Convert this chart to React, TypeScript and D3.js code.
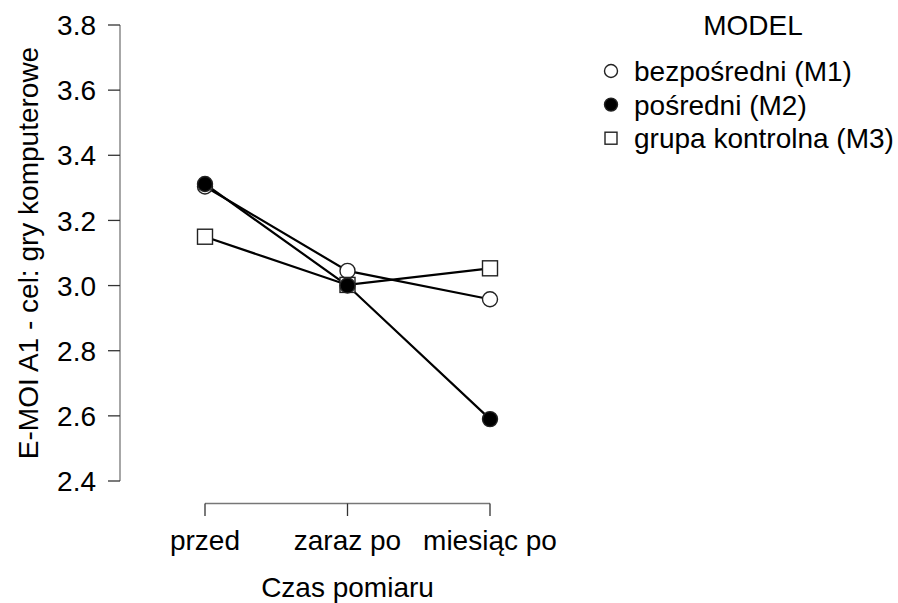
import React from "react";
import * as d3 from "d3";

// Time points and model means
const timePoints = ["przed", "zaraz po", "miesiąc po"];
const m1Values = [3.304, 3.045, 2.958];
const m2Values = [3.312, 3.0, 2.59];
const m3Values = [3.15, 3.002, 3.053];
const seriesNames = ["bezpośredni (M1)", "pośredni (M2)", "grupa kontrolna (M3)"];
const yTicks = [2.4, 2.6, 2.8, 3.0, 3.2, 3.4, 3.6, 3.8];

const W = 898;
const H = 603;
const FONT = "'Liberation Sans', Arial, sans-serif";
const FS = 28;

type Shape = "circle-open" | "circle-filled" | "square-open";

const series: { name: string; values: number[]; shape: Shape }[] = [
  { name: seriesNames[0], values: m1Values, shape: "circle-open" },
  { name: seriesNames[2], values: m3Values, shape: "square-open" },
  { name: seriesNames[1], values: m2Values, shape: "circle-filled" },
];

function Marker({ shape, x, y, r }: { shape: Shape; x: number; y: number; r: number }) {
  if (shape === "square-open") {
    return (
      <rect x={x - r} y={y - r} width={2 * r} height={2 * r} fill="#fff" stroke="#222" strokeWidth={1.4} />
    );
  }
  return (
    <circle cx={x} cy={y} r={r} fill={shape === "circle-filled" ? "#000" : "#fff"} stroke="#222" strokeWidth={1.4} />
  );
}

export default function App() {
  const y = d3.scaleLinear().domain([2.4, 3.8]).range([481, 25]);
  const x = d3.scalePoint<string>().domain(timePoints).range([205, 490]);
  const line = d3
    .line<number>()
    .x((_, i) => x(timePoints[i]) as number)
    .y((d) => y(d));

  const axisX = 120;
  const axisY = 503.5;

  const legendItems: { name: string; shape: Shape }[] = [
    { name: seriesNames[0], shape: "circle-open" },
    { name: seriesNames[1], shape: "circle-filled" },
    { name: seriesNames[2], shape: "square-open" },
  ];

  return (
    <svg width={W} height={H} style={{ position: "absolute", left: 0, top: 0, background: "#fff" }} fontFamily={FONT}>
      <rect width={W} height={H} fill="#fff" />
      {/* y axis */}
      <line x1={axisX} x2={axisX} y1={y(3.8)} y2={y(2.4)} stroke="#777" strokeWidth={1.3} />
      {yTicks.map((t) => (
        <g key={t}>
          <line x1={axisX - 12} x2={axisX} y1={y(t)} y2={y(t)} stroke="#333" strokeWidth={1.3} />
          <text x={96} y={y(t)} dy="0.36em" textAnchor="end" fontSize={FS} fill="#000">
            {t.toFixed(1)}
          </text>
        </g>
      ))}
      <text
        transform={`translate(38,${(y(3.8) + y(2.4)) / 2}) rotate(-90)`}
        textAnchor="middle"
        fontSize={FS}
        fill="#000"
      >
        E-MOI A1 - cel: gry komputerowe
      </text>
      {/* x axis */}
      <line x1={x(timePoints[0])} x2={x(timePoints[2])} y1={axisY} y2={axisY} stroke="#777" strokeWidth={1.3} />
      {timePoints.map((t) => (
        <g key={t}>
          <line x1={x(t)} x2={x(t)} y1={axisY} y2={axisY + 12.5} stroke="#333" strokeWidth={1.3} />
          <text x={x(t)} y={550} textAnchor="middle" fontSize={FS} fill="#000">
            {t}
          </text>
        </g>
      ))}
      <text x={347.5} y={597} textAnchor="middle" fontSize={FS} fill="#000">
        Czas pomiaru
      </text>
      {/* series lines */}
      {series.map((s) => (
        <path key={s.name + "-l"} d={line(s.values) || ""} fill="none" stroke="#000" strokeWidth={2.2} />
      ))}
      {/* series markers */}
      {series.map((s) =>
        s.values.map((v, i) => (
          <Marker key={s.name + i} shape={s.shape} x={x(timePoints[i]) as number} y={y(v)} r={7.5} />
        ))
      )}
      {/* legend */}
      <text x={753} y={35} textAnchor="middle" fontSize={FS} fill="#000">
        MODEL
      </text>
      {legendItems.map((it, i) => {
        const cy = 71 + i * 33.6;
        return (
          <g key={it.name}>
            <Marker shape={it.shape} x={611} y={cy} r={it.shape === "square-open" ? 6 : 6.5} />
            <text x={634} y={cy} dy="0.36em" fontSize={FS} fill="#000">
              {it.name}
            </text>
          </g>
        );
      })}
    </svg>
  );
}
